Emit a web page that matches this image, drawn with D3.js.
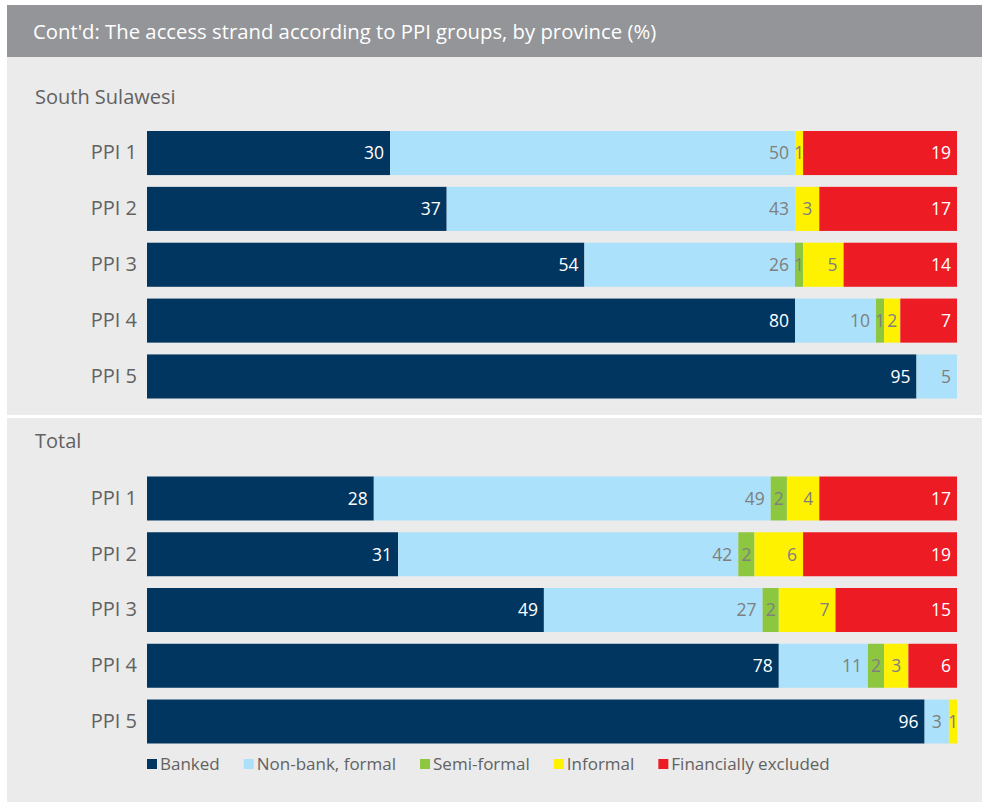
<!DOCTYPE html>
<html>
<head>
<meta charset="utf-8">
<script src="https://cdn.jsdelivr.net/npm/d3@7"></script>
<style>
  html, body { margin: 0; padding: 0; background: #ffffff; }
  svg { display: block; font-family: "Open Sans", sans-serif; }
</style>
</head>
<body>
<svg id="chart" width="984" height="802"></svg>
<script>
// ---- Data ----
const categories = ["PPI 1", "PPI 2", "PPI 3", "PPI 4", "PPI 5"];
const seriesNames = ["Banked", "Non-bank, formal", "Semi-formal", "Informal", "Financially excluded"];
const seriesColors = ["#003660", "#abe1fa", "#8dc63f", "#fff200", "#ed1c24"];
const labelColors = ["#ffffff", "#7f7f7f", "#7f7f7f", "#7f7f7f", "#ffffff"];

const southSulawesiBanked      = [30, 37, 54, 80, 95];
const southSulawesiNonBank     = [50, 43, 26, 10, 5];
const southSulawesiSemiFormal  = [0, 0, 1, 1, 0];
const southSulawesiInformal    = [1, 3, 5, 2, 0];
const southSulawesiExcluded    = [19, 17, 14, 7, 0];

const totalBanked      = [28, 31, 49, 78, 96];
const totalNonBank     = [49, 42, 27, 11, 3];
const totalSemiFormal  = [2, 2, 2, 2, 0];
const totalInformal    = [4, 6, 7, 3, 1];
const totalExcluded    = [17, 19, 15, 6, 0];

const titleText = "Cont'd: The access strand according to PPI groups, by province (%)";

// ---- Build tables ----
function buildRows(arrs) {
  return categories.map((c, i) => {
    const row = { category: c };
    seriesNames.forEach((s, j) => { row[s] = arrs[j][i]; });
    return row;
  });
}
const panels = [
  { name: "South Sulawesi",
    rows: buildRows([southSulawesiBanked, southSulawesiNonBank, southSulawesiSemiFormal, southSulawesiInformal, southSulawesiExcluded]),
    titleY: 104, top: 131, bottom: 398.5 },
  { name: "Total",
    rows: buildRows([totalBanked, totalNonBank, totalSemiFormal, totalInformal, totalExcluded]),
    titleY: 448, top: 476.5, bottom: 743.5 }
];

const svg = d3.select("#chart");
const textColor = "#626262";

// Panel background
svg.append("rect").attr("x", 7).attr("y", 5).attr("width", 975).attr("height", 797).attr("fill", "#ebebeb");
svg.append("rect").attr("x", 7).attr("y", 5).attr("width", 975).attr("height", 52).attr("fill", "#939598");
svg.append("text").attr("x", 33).attr("y", 39).attr("fill", "#ffffff")
  .style("font-size", "20.3px").text(titleText);

// Separator
svg.append("line").attr("x1", 7).attr("x2", 982).attr("y1", 416.5).attr("y2", 416.5)
  .attr("stroke", "#ffffff").attr("stroke-width", 3);

const x = d3.scaleLinear().domain([0, 100]).range([147, 957]);
const stack = d3.stack().keys(seriesNames);

panels.forEach(p => {
  const y = d3.scaleBand().domain(categories).range([p.top, p.bottom]).paddingInner(0.211).paddingOuter(0);
  const g = svg.append("g");

  g.append("text").attr("x", 35).attr("y", p.titleY).attr("fill", textColor)
    .style("font-size", "20px").text(p.name);

  const stacked = stack(p.rows);
  stacked.forEach((layer, si) => {
    const lg = g.append("g");
    lg.selectAll("rect").data(layer).join("rect")
      .attr("x", d => x(d[0]))
      .attr("y", d => y(d.data.category))
      .attr("width", d => x(d[1]) - x(d[0]))
      .attr("height", y.bandwidth())
      .attr("fill", seriesColors[si]);

    lg.selectAll("text").data(layer.filter(d => d[1] - d[0] > 0)).join("text")
      .attr("x", d => {
        const w = x(d[1]) - x(d[0]);
        return w < 30 ? (x(d[0]) + x(d[1])) / 2 : x(d[1]) - 6;
      })
      .attr("text-anchor", d => (x(d[1]) - x(d[0]) < 30 ? "middle" : "end"))
      .attr("y", d => y(d.data.category) + y.bandwidth() / 2)
      .attr("dy", "0.36em")
      .attr("fill", labelColors[si])
      .style("font-size", "17.5px")
      .text(d => d.data[seriesNames[si]]);
  });

  const axis = d3.axisLeft(y).tickSize(0).tickPadding(10);
  const ag = g.append("g").attr("transform", `translate(${x(0)},0)`).call(axis);
  ag.select(".domain").remove();
  ag.selectAll("text").attr("fill", textColor).style("font-size", "20px")
    .style("font-family", "'Open Sans', sans-serif");
});

// Legend
const legend = svg.append("g").attr("transform", "translate(147,0)");
let lx = 0;
seriesNames.forEach((s, i) => {
  const item = legend.append("g").attr("transform", `translate(${lx},0)`);
  item.append("rect").attr("x", 0).attr("y", 759).attr("width", 10).attr("height", 10).attr("fill", seriesColors[i]);
  const t = item.append("text").attr("x", 13).attr("y", 770).attr("fill", textColor)
    .style("font-size", "17px").text(s);
  lx += 13 + t.node().getComputedTextLength() + 24;
});
</script>
</body>
</html>
